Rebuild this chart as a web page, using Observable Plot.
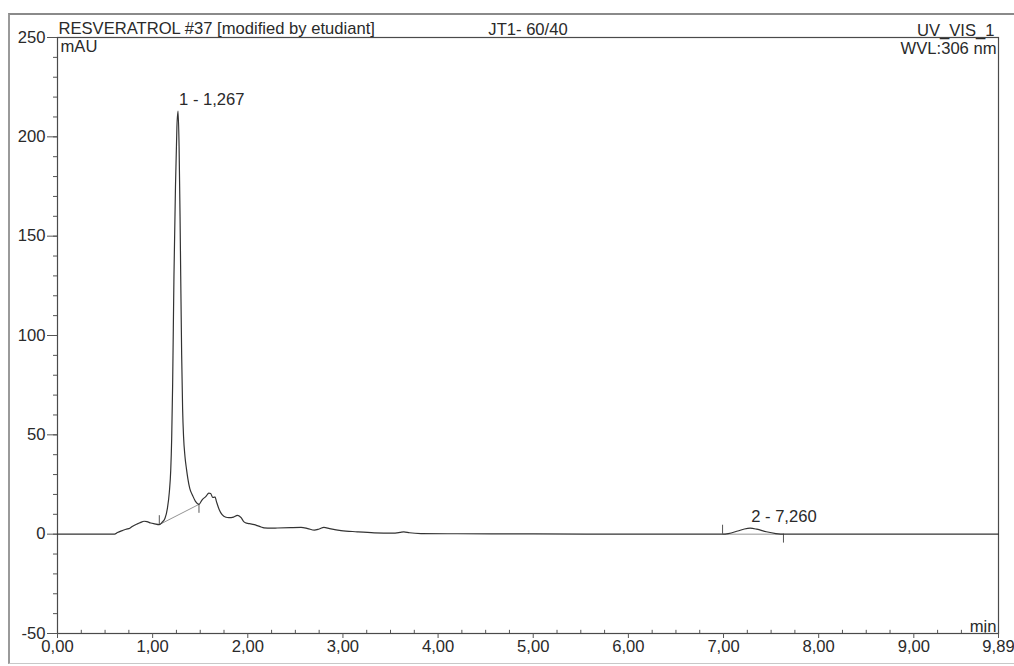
<!DOCTYPE html>
<html>
<head>
<meta charset="utf-8">
<script src="https://cdn.jsdelivr.net/npm/d3@7"></script>
<script src="https://cdn.jsdelivr.net/npm/@observablehq/plot@0.6"></script>
<style>
  html, body { margin: 0; padding: 0; background: #fff; }
  #wrap { position: relative; width: 1014px; height: 666px; overflow: hidden; }
  #outer { position: absolute; left: 8px; top: 13px; width: 1010px; height: 651px;
           border-left: 2px solid #9a9a9a; border-top: 2px solid #8a8a8a; border-bottom: 1px solid #c8c8c8; box-sizing: border-box; }
  #chart { position: absolute; left: 0; top: 0; }
</style>
</head>
<body>
<div id="wrap"><div id="outer"></div><div id="chart"></div></div>
<script>
// Retention time (min) and absorbance (mAU)
const times = [0, 0.30, 0.60, 0.63, 0.68, 0.72, 0.76, 0.79, 0.84, 0.87, 0.91, 0.94, 0.98, 1.02, 1.07,
  1.10, 1.13, 1.155, 1.175, 1.19, 1.20, 1.21, 1.224, 1.24, 1.255, 1.267, 1.278, 1.288, 1.295, 1.305, 1.315,
  1.325, 1.34, 1.355, 1.37, 1.39, 1.42, 1.45, 1.487,
  1.52, 1.56, 1.59, 1.61, 1.63, 1.645, 1.655, 1.67, 1.70, 1.73, 1.77, 1.80, 1.85, 1.89, 1.91, 1.93, 1.96,
  2.00, 2.03, 2.07, 2.10, 2.14, 2.17, 2.25, 2.31, 2.45, 2.56, 2.63, 2.70, 2.75, 2.80, 2.86, 2.98,
  3.15, 3.33, 3.52, 3.60, 3.64, 3.70, 3.82, 4.20, 5.00, 6.00, 6.99,
  7.05, 7.15, 7.22, 7.28, 7.35, 7.45, 7.55, 7.65, 8.50, 9.89];
const signal = [0, 0, 0, 0.8, 1.8, 2.5, 3.0, 4.0, 5.2, 5.8, 6.5, 6.3, 5.6, 5.2, 4.8,
  6.0, 8.0, 13, 21, 32, 48, 75, 130, 175, 205, 213, 195, 160, 130, 90, 63,
  49, 39, 33, 28, 23, 19.5, 16.5, 15,
  17.3, 19, 20.7, 20.5, 18.5, 18.5, 18.8, 16.5, 12.3, 9.8, 8.5, 8.3, 8.6, 9.5, 9.2, 8.3, 6.2,
  5.4, 5.2, 4.8, 4.3, 3.6, 3.2, 3.0, 3.1, 3.3, 3.4, 2.8, 2.0, 2.6, 3.4, 2.8, 1.8,
  1.2, 0.7, 0.5, 0.9, 1.2, 0.7, 0.3, 0.2, 0.1, 0, 0,
  0.3, 1.6, 2.6, 3.0, 2.5, 1.2, 0.3, 0, 0, 0];

// Integrated peaks
const peakLabels = ["1 - 1,267", "2 - 7,260"];
const peakTimes = [1.267, 7.28];
const peakHeights = [213, 3.0];
const peakStartT = [1.07, 6.99];
const peakStartV = [4.8, 0];
const peakEndT = [1.487, 7.63];
const peakEndV = [15, 0];

// Axis ticks
const yMajor = [-50, 0, 50, 100, 150, 200, 250];
const yMinor = d3.range(-50, 251, 10);
const xMajor = [0, 1, 2, 3, 4, 5, 6, 7, 8, 9, 9.89];
const xMinor = d3.range(0, 9.8, 0.25).filter(v => Math.abs(v - Math.round(v)) > 1e-6);

const trace = times.map((t, i) => ({t, v: signal[i]}));
const peaks = peakLabels.map((label, i) => ({label, t: peakTimes[i], v: peakHeights[i]}));
const baselines = peakLabels.map((l, i) => ({t1: peakStartT[i], v1: peakStartV[i], t2: peakEndT[i], v2: peakEndV[i]}));
const startMarks = peakStartT.map((t, i) => ({t, v1: peakStartV[i], v2: peakStartV[i] + 4.5}));
const endMarks = peakEndT.map((t, i) => ({t, v1: peakEndV[i], v2: peakEndV[i] - 4.5}));

const fmtX = d => d.toFixed(2).replace(".", ",");
const ink = "#2a2a2a";
const font = "Liberation Sans, Arial, sans-serif";
const fs = 16.6;

const chart = Plot.plot({
  width: 1014,
  height: 666,
  marginLeft: 57,
  marginRight: 16,
  marginTop: 37,
  marginBottom: 33,
  style: {fontFamily: font, fontSize: fs + "px", color: ink, background: "transparent"},
  x: {domain: [0, 9.89], axis: null},
  y: {domain: [-50, 250], axis: null},
  marks: [
    Plot.frame({stroke: "#4a4a4a", strokeWidth: 1.2}),
    // y axis: minor and major ticks
    Plot.axisY({ticks: yMinor, tickSize: 4, tickFormat: () => "", stroke: "#555", label: null}),
    Plot.axisY({ticks: yMajor, tickSize: 10, tickPadding: 2, tickFormat: d => String(d), stroke: "#555", fill: ink, fontSize: fs, label: null}),
    // x axis: major ticks below, minor ticks inside
    Plot.axisX({ticks: xMajor, tickSize: 5, tickPadding: 2, tickFormat: fmtX, stroke: "#555", fill: ink, fontSize: fs, label: null}),
    Plot.ruleX(xMinor, {x: d => d, y1: -50, y2: -48.4, stroke: "#555"}),
    // integration baselines and delimiters
    Plot.link(baselines, {x1: "t1", y1: "v1", x2: "t2", y2: "v2", stroke: "#888", strokeWidth: 0.9}),
    Plot.ruleX(startMarks, {x: "t", y1: "v1", y2: "v2", stroke: "#555", strokeWidth: 1}),
    Plot.ruleX(endMarks, {x: "t", y1: "v1", y2: "v2", stroke: "#555", strokeWidth: 1}),
    // chromatogram trace
    Plot.line(trace, {x: "t", y: "v", curve: "monotone-x", stroke: "#333", strokeWidth: 1.2}),
    // peak labels
    Plot.text(peaks, {x: "t", y: "v", text: "label", textAnchor: "start", lineAnchor: "bottom", dx: 1, dy: -6, fill: ink, fontSize: fs}),
    // header texts
    Plot.text(["RESVERATROL #37 [modified by etudiant]"], {frameAnchor: "top-left", textAnchor: "start", lineAnchor: "bottom", dx: 1, dy: -4, fill: ink, fontSize: fs}),
    Plot.text(["JT1- 60/40"], {frameAnchor: "top", lineAnchor: "bottom", dy: -3, fill: ink, fontSize: fs}),
    Plot.text(["UV_VIS_1"], {frameAnchor: "top-right", textAnchor: "end", lineAnchor: "bottom", dx: -4, dy: -2, fill: ink, fontSize: fs}),
    Plot.text(["mAU"], {frameAnchor: "top-left", textAnchor: "start", lineAnchor: "top", dx: 3, dy: 3, fill: ink, fontSize: fs}),
    Plot.text(["WVL:306 nm"], {frameAnchor: "top-right", textAnchor: "end", lineAnchor: "top", dx: -2, dy: 5, fill: ink, fontSize: fs}),
    Plot.text(["min"], {frameAnchor: "bottom-right", textAnchor: "end", lineAnchor: "bottom", dx: -2, dy: -2, fill: ink, fontSize: fs})
  ]
});
document.getElementById("chart").appendChild(chart);
</script>
</body>
</html>
